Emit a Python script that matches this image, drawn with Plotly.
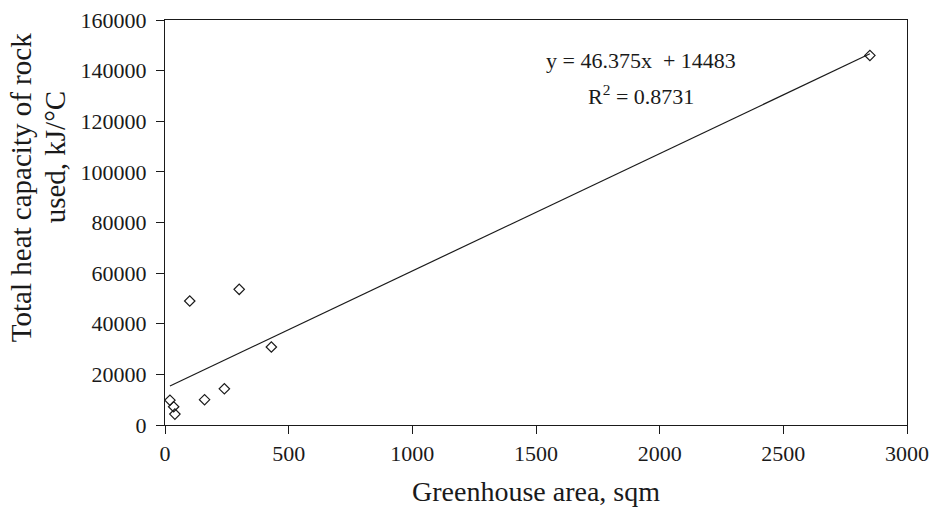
import plotly.graph_objects as go

# Data
area = [20, 35, 40, 100, 160, 240, 300, 430, 2850]          # Greenhouse area, sqm
capacity = [9800, 7200, 4300, 49000, 10000, 14300, 53600, 30800, 146000]  # kJ/°C

# Trendline coefficients as printed on the chart
slope = 46.375
intercept = 14483
r2 = 0.8731

x_ticks = [0, 500, 1000, 1500, 2000, 2500, 3000]
y_ticks = [0, 20000, 40000, 60000, 80000, 100000, 120000, 140000, 160000]

FONT = "Liberation Serif"
INK = "#1a1a1a"

fit_x = [min(area), max(area)]
fit_y = [slope * v + intercept for v in fit_x]

fig = go.Figure()
fig.add_trace(go.Scatter(
    x=fit_x, y=fit_y, mode="lines",
    line=dict(color=INK, width=1.2), showlegend=False, hoverinfo="skip"))
fig.add_trace(go.Scatter(
    x=area, y=capacity, mode="markers",
    marker=dict(symbol="diamond-open", size=8, color=INK, line=dict(width=1.2, color=INK)),
    showlegend=False))

axis_common = dict(
    showline=True, linecolor=INK, linewidth=1.3, mirror=True,
    ticks="outside", ticklen=8, tickcolor=INK, tickwidth=1.3,
    showgrid=False, zeroline=False, tickformat="d", automargin=False,
    tickfont=dict(family=FONT, size=22, color=INK),
)

fig.update_layout(
    width=931, height=508,
    margin=dict(l=165, r=24, t=20, b=83),
    paper_bgcolor="white", plot_bgcolor="white",
    font=dict(family=FONT, color=INK),
    xaxis=dict(range=[0, 3000], tickvals=x_ticks, **axis_common),
    yaxis=dict(range=[0, 160000], tickvals=y_ticks, ticklabelstandoff=5, **axis_common),
)

annots = [
    dict(text="Greenhouse area, sqm", x=0.5, y=-0.165, size=28, angle=0),
    dict(text="Total heat capacity of rock", x=-0.194, y=0.585, size=29, angle=-90),
    dict(text="used, kJ/°C", x=-0.149, y=0.662, size=29, angle=-90),
    dict(text=f"y = {slope}x  + {intercept}", x=0.6415, y=0.901, size=22, angle=0),
    dict(text=f"R<sup>2</sup> = {r2}", x=0.6415, y=0.815, size=22, angle=0),
]
for a in annots:
    fig.add_annotation(
        text=a["text"], x=a["x"], y=a["y"], xref="paper", yref="paper",
        xanchor="center", yanchor="middle", showarrow=False, textangle=a["angle"],
        font=dict(family=FONT, size=a["size"], color=INK))

fig.write_html("out.html")
